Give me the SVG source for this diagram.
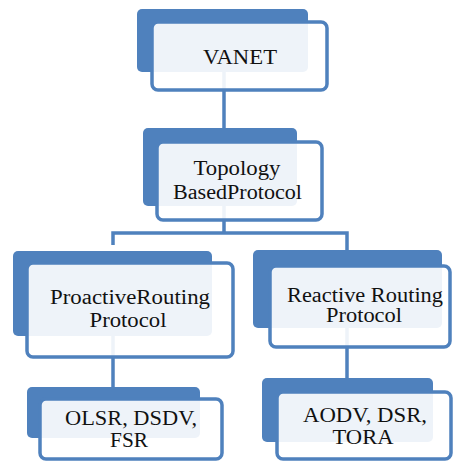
<svg xmlns="http://www.w3.org/2000/svg" width="453" height="461" viewBox="0 0 453 461">
<style>
.back{fill:#4F81BD;}
.front{fill:#FFFFFF;fill-opacity:0.9;stroke:#4F81BD;stroke-width:3.5;}
.conn{fill:none;stroke:#4F81BD;stroke-width:3.5;}
</style>
<rect width="453" height="461" fill="#FFFFFF"/>
<g id="connectors">
<path class="conn" d="M224,70 V144"/>
<path class="conn" d="M224,205 V233 M113,245 V233 H347 V250"/>
<path class="conn" d="M113,334 V389"/>
<path class="conn" d="M347,326 V380"/>
</g>
<g font-family="Liberation Serif, DejaVu Serif, serif" font-size="20" fill="#111111" text-anchor="middle">
<g id="vanet">
<rect class="back" x="137" y="9" width="171" height="63" rx="5"/>
<rect class="front" x="152" y="22" width="175" height="68" rx="6"/>
<text x="240" y="64" textLength="74" lengthAdjust="spacingAndGlyphs">VANET</text>
</g>
<g id="topology">
<rect class="back" x="143" y="128" width="154" height="78" rx="5"/>
<rect class="front" x="157" y="142" width="165" height="78" rx="6"/>
<text x="237" y="175" textLength="87" lengthAdjust="spacingAndGlyphs">Topology</text>
<text x="237.5" y="199" textLength="129" lengthAdjust="spacingAndGlyphs">BasedProtocol</text>
</g>
<g id="proactive">
<rect class="back" x="13" y="251" width="199" height="85" rx="5"/>
<rect class="front" x="27" y="263" width="206" height="94" rx="6"/>
<text x="130" y="304" textLength="160" lengthAdjust="spacingAndGlyphs">ProactiveRouting</text>
<text x="128" y="327" textLength="77" lengthAdjust="spacingAndGlyphs">Protocol</text>
</g>
<g id="reactive">
<rect class="back" x="253" y="250" width="189" height="78" rx="5"/>
<rect class="front" x="270" y="266" width="180" height="81" rx="6"/>
<text x="365" y="302" textLength="156" lengthAdjust="spacingAndGlyphs">Reactive Routing</text>
<text x="364" y="322" textLength="76" lengthAdjust="spacingAndGlyphs">Protocol</text>
</g>
<g id="proactive-list">
<rect class="back" x="27" y="387" width="173" height="51" rx="5"/>
<rect class="front" x="40" y="399" width="182" height="60" rx="6"/>
<text x="131" y="425" textLength="132" lengthAdjust="spacingAndGlyphs">OLSR, DSDV,</text>
<text x="129" y="447" textLength="38" lengthAdjust="spacingAndGlyphs">FSR</text>
</g>
<g id="reactive-list">
<rect class="back" x="262" y="378" width="171" height="64" rx="5"/>
<rect class="front" x="277" y="392" width="174" height="67" rx="6"/>
<text x="365" y="422" textLength="124" lengthAdjust="spacingAndGlyphs">AODV, DSR,</text>
<text x="363" y="444" textLength="61" lengthAdjust="spacingAndGlyphs">TORA</text>
</g>
</g>
</svg>
